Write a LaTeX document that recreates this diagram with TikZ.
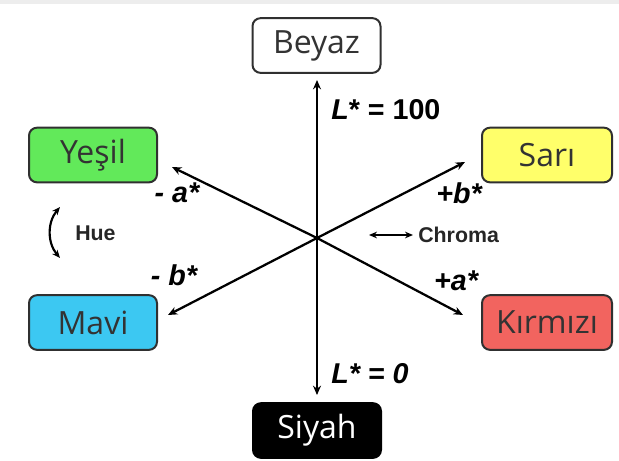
\documentclass[tikz,border=0pt]{standalone}
\usepackage{fontspec}
\setmainfont{Open Sans}
\newfontfamily\labfont{Liberation Sans}
\usetikzlibrary{arrows.meta}
\definecolor{cgreen}{HTML}{62E95A}
\definecolor{cyellow}{HTML}{FFFF6A}
\definecolor{cblue}{HTML}{3CC8F2}
\definecolor{cred}{HTML}{F2645F}
\definecolor{cedge}{HTML}{303030}
\begin{document}
\begin{tikzpicture}[x=0.75pt,y=-0.75pt,
  colorbox/.style={draw=cedge,line width=1.5pt,rounded corners=6pt,minimum width=96pt,minimum height=41pt,inner sep=0pt,font=\fontsize{24}{28}\selectfont,text=black!80},
  axis/.style={line width=1.7pt,-{Stealth[length=7pt,width=6pt]}},
  axlabel/.style={font=\labfont\bfseries\itshape\fontsize{21.5}{24}\selectfont,inner sep=0pt},
  smalllabel/.style={font=\labfont\bfseries\fontsize{16}{18}\selectfont,inner sep=0pt,text=black!85},
  twotip/.style={line width=1.6pt,{Stealth[length=6pt,width=5pt]}-{Stealth[length=6pt,width=5pt]}}]
\useasboundingbox (0,0) rectangle (619,461);
\fill[black!7] (0,0) rectangle (619,4);
% boxes
\node[colorbox,fill=white] (beyaz) at (316.5,45.5) {Beyaz};
\node[colorbox,fill=black,draw=black,text=white] (siyah) at (317,430.5) {Siyah};
\node[colorbox,fill=cgreen] (yesil) at (93,155) {Yeşil};
\node[colorbox,fill=cblue] (mavi) at (93,322.5) {Mavi};
\node[colorbox,fill=cyellow,minimum width=97.5pt] (sari) at (547,155) {Sarı};
\node[colorbox,fill=cred,minimum width=97.5pt] (kirmizi) at (547,322.5) {Kırmızı};
% axes
\coordinate (o) at (317,238);
\coordinate (tup) at (317,80);
\coordinate (tdown) at (317,395);
\coordinate (tyes) at (172,167);
\coordinate (tkir) at (463,315);
\coordinate (tmav) at (168,315);
\coordinate (tsar) at (465,162);
\draw[axis] (o) -- (tup);
\draw[axis] (o) -- (tdown);
\draw[axis] (o) -- (tyes);
\draw[axis] (o) -- (tkir);
\draw[axis] (o) -- (tmav);
\draw[axis] (o) -- (tsar);
% labels
\node[axlabel,anchor=west] (l100) at (331,110) {L{\upshape* = 100}};
\node[axlabel,anchor=west] (l0) at (331,374) {L* = 0};
\node[axlabel] (ma) at (177,193) {- a*};
\node[axlabel] (mb) at (174,275) {- b*};
\node[axlabel] (pb) at (459,193) {+b*};
\node[axlabel] (pa) at (456,281) {+a*};
% hue
\node[smalllabel,anchor=west] (hue) at (75,233) {Hue};
\coordinate (htop) at (60,207);
\coordinate (hbot) at (60,258);
\draw[twotip] (htop) to[bend right=40] (hbot);
% chroma
\node[smalllabel,anchor=west] (chroma) at (418,235) {Chroma};
\coordinate (ca) at (369,235);
\coordinate (cb) at (413,235);
\draw[twotip] (ca) -- (cb);
\end{tikzpicture}
\end{document}
